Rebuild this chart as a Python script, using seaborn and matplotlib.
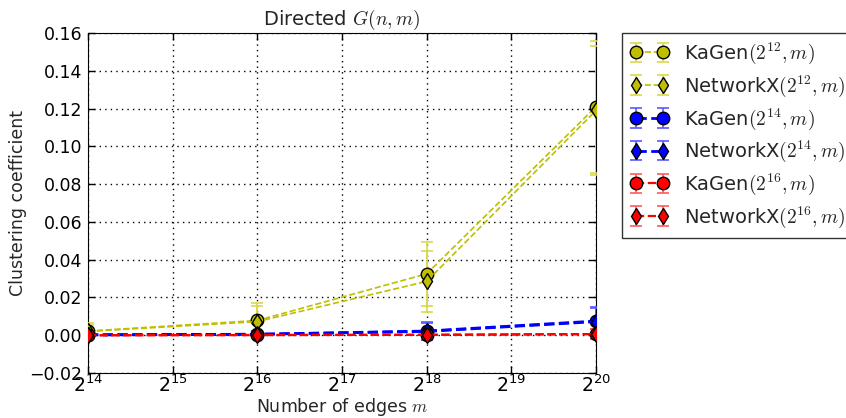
import numpy as np
import pandas as pd
import matplotlib
matplotlib.use("Agg")
import matplotlib.pyplot as plt
import seaborn as sns

edges = [2**14, 2**16, 2**18, 2**20]
series_names = ["KaGen$(2^{12}, m)$", "NetworkX$(2^{12}, m)$",
                "KaGen$(2^{14}, m)$", "NetworkX$(2^{14}, m)$",
                "KaGen$(2^{16}, m)$", "NetworkX$(2^{16}, m)$"]
kagen_12 = [0.0022, 0.0078, 0.0325, 0.1210]
kagen_12_err = [0.0040, 0.0090, 0.0170, 0.0350]
nx_12 = [0.0020, 0.0072, 0.0285, 0.1190]
nx_12_err = [0.0035, 0.0085, 0.0160, 0.0340]
kagen_14 = [0.0002, 0.0005, 0.0022, 0.0075]
kagen_14_err = [0.0008, 0.0015, 0.0050, 0.0075]
nx_14 = [0.0002, 0.0005, 0.0020, 0.0072]
nx_14_err = [0.0008, 0.0015, 0.0045, 0.0070]
kagen_16 = [0.0000, 0.0001, 0.0002, 0.0006]
kagen_16_err = [0.0003, 0.0005, 0.0012, 0.0025]
nx_16 = [0.0000, 0.0001, 0.0002, 0.0006]
nx_16_err = [0.0003, 0.0005, 0.0012, 0.0025]

values = [kagen_12, nx_12, kagen_14, nx_14, kagen_16, nx_16]
errors = [kagen_12_err, nx_12_err, kagen_14_err, nx_14_err, kagen_16_err, nx_16_err]
colors = [(0.75, 0.75, 0.0), (0.75, 0.75, 0.0), (0, 0, 1), (0, 0, 1), (1, 0, 0), (1, 0, 0)]
err_colors = [(0.85, 0.85, 0.3), (0.85, 0.85, 0.3), (0.35, 0.35, 1), (0.35, 0.35, 1), (1, 0.35, 0.35), (1, 0.35, 0.35)]
markers = ["o", "d", "o", "d", "o", "d"]
widths = [1.2, 1.2, 2.0, 2.0, 1.6, 1.6]

sns.set_style("ticks", rc={
    "axes.edgecolor": "black", "axes.linewidth": 1.0,
    "xtick.direction": "in", "ytick.direction": "in",
    "xtick.top": True, "ytick.right": True,
    "xtick.color": "black", "ytick.color": "black",
    "axes.grid": True, "grid.color": "black", "grid.linestyle": ":",
    "grid.linewidth": 1.0,
})
plt.rcParams["font.family"] = ["DejaVu Sans"]
plt.rcParams["mathtext.fontset"] = "cm"
plt.rcParams["axes.unicode_minus"] = True
plt.rcParams["font.size"] = 12

fig = plt.figure(figsize=(8.46, 4.18), dpi=100)
ax = fig.add_axes([0.104, 0.1077, 0.6005, 0.8133])

rows = []
for name, vals, errs in zip(series_names, values, errors):
    for x, v, e in zip(edges, vals, errs):
        rows.append({"series": name, "m": x, "cc": v, "err": e})
df = pd.DataFrame(rows)

for i, name in enumerate(series_names):
    d = df[df["series"] == name]
    ax.errorbar(d["m"], d["cc"], yerr=d["err"], fmt="--", marker=markers[i],
                color=colors[i], ecolor=err_colors[i], markeredgecolor="black",
                markersize=9 if markers[i] == "o" else 8, linewidth=widths[i],
                elinewidth=1.2, capsize=4, capthick=1.2, label=name, zorder=3)

ax.set_xscale("log", base=2)
ax.set_xlim(2**14, 2**20)
ax.set_xticks([2**k for k in range(14, 21)])
ax.xaxis.set_minor_locator(matplotlib.ticker.NullLocator())
ax.set_ylim(-0.02, 0.16)
ax.set_yticks(np.arange(-0.02, 0.161, 0.02))
ax.yaxis.set_major_formatter(matplotlib.ticker.FuncFormatter(
    lambda v, p: ("%.2f" % v).replace("-", "\u2212")))
ax.grid(True, linestyle=(0, (1, 3)), color="black", linewidth=1.0)
ax.tick_params(axis="both", which="major", direction="in", length=5, width=1,
               top=True, right=True, labelsize=12.5)
ax.tick_params(axis="x", pad=1, labelsize=13.5)
ax.tick_params(axis="y", pad=4)
ax.set_xlabel("Number of edges $m$", fontsize=12.5, labelpad=0)
ax.set_ylabel("Clustering coefficient", fontsize=12.5, labelpad=2)
ax.set_title("Directed $G(n,m)$", fontsize=14, pad=6)
for s in ax.spines.values():
    s.set_visible(True)

leg = ax.legend(loc="upper left", bbox_to_anchor=(1.051, 1.0), borderaxespad=0.0,
                numpoints=2, fontsize=14, frameon=True, fancybox=False,
                borderpad=0.4, labelspacing=0.38, handlelength=2.0,
                handletextpad=0.8)
leg.get_frame().set_edgecolor("black")
leg.get_frame().set_linewidth(1.0)

fig.savefig("out.png", dpi=100, facecolor="white")
